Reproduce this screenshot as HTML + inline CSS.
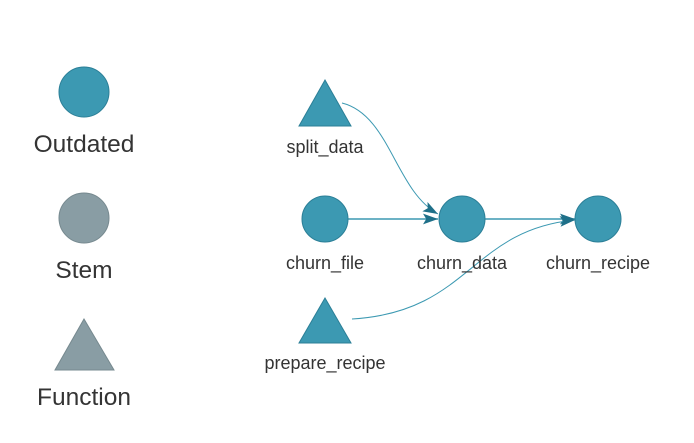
<!DOCTYPE html>
<html><head><meta charset="utf-8"><style>
html,body{margin:0;padding:0;background:#fff;}
</style></head><body>
<svg width="694" height="438" xmlns="http://www.w3.org/2000/svg" font-family="Liberation Sans, Arial, sans-serif">
<defs>
<marker id="a" viewBox="0 0 14 10" refX="14" refY="5" markerWidth="15" markerHeight="11" markerUnits="userSpaceOnUse" orient="auto">
<path d="M0,0 L14,5 L0,10 L3,5 Z" fill="#1f7089"/></marker>
</defs>
<circle cx="84" cy="92" r="25" fill="#3c99b2" stroke="#2b7f97" stroke-width="1"/>
<text x="84" y="152" font-size="24.5" fill="#343434" text-anchor="middle">Outdated</text>
<circle cx="84" cy="218" r="25" fill="#899da4" stroke="#76898f" stroke-width="1"/>
<text x="84" y="278" font-size="24.5" fill="#343434" text-anchor="middle">Stem</text>
<polygon points="84,319 114,370 55,370" fill="#899da4" stroke="#76898f" stroke-width="1"/>
<text x="84" y="405" font-size="24.5" fill="#343434" text-anchor="middle">Function</text>
<path d="M342,103 C390,115 395,190 438,214" fill="none" stroke="#3c99b2" stroke-width="1" marker-end="url(#a)"/>
<path d="M348,219 L438,219" fill="none" stroke="#3c99b2" stroke-width="1.5" marker-end="url(#a)"/>
<path d="M485,219 L575,219" fill="none" stroke="#3c99b2" stroke-width="1.5" marker-end="url(#a)"/>
<path d="M352,319 C470,312 470,230 575,220" fill="none" stroke="#3c99b2" stroke-width="1" marker-end="url(#a)"/>
<polygon points="325,80 351,126 299,126" fill="#3c99b2" stroke="#2b7f97" stroke-width="1"/>
<text x="325" y="153" font-size="18" fill="#343434" text-anchor="middle">split_data</text>
<circle cx="325" cy="219" r="23" fill="#3c99b2" stroke="#2b7f97" stroke-width="1"/>
<text x="325" y="269" font-size="18" fill="#343434" text-anchor="middle">churn_file</text>
<circle cx="462" cy="219" r="23" fill="#3c99b2" stroke="#2b7f97" stroke-width="1"/>
<text x="462" y="269" font-size="18" fill="#343434" text-anchor="middle">churn_data</text>
<circle cx="598" cy="219" r="23" fill="#3c99b2" stroke="#2b7f97" stroke-width="1"/>
<text x="598" y="269" font-size="18" fill="#343434" text-anchor="middle">churn_recipe</text>
<polygon points="325,298 351,343 299,343" fill="#3c99b2" stroke="#2b7f97" stroke-width="1"/>
<text x="325" y="369" font-size="18" fill="#343434" text-anchor="middle">prepare_recipe</text>
</svg>
</body></html>
